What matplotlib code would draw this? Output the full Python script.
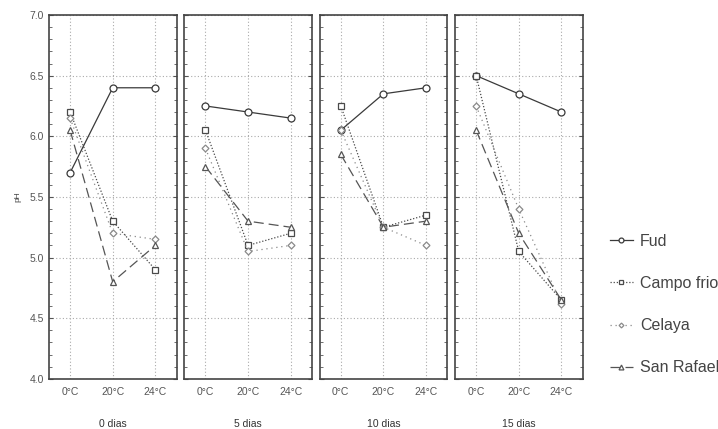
#!/usr/bin/env python3
import matplotlib.pyplot as plt
from matplotlib.ticker import MultipleLocator

temps = ["0°C", "20°C", "24°C"]
days = ["0 dias", "5 dias", "10 dias", "15 dias"]

# pH per cultivar, one row per storage day
fud = [[5.7, 6.4, 6.4], [6.25, 6.2, 6.15], [6.05, 6.35, 6.4], [6.5, 6.35, 6.2]]
campo_frio = [[6.2, 5.3, 4.9], [6.05, 5.1, 5.2], [6.25, 5.25, 5.35], [6.5, 5.05, 4.65]]
celaya = [[6.15, 5.2, 5.15], [5.9, 5.05, 5.1], [6.05, 5.25, 5.1], [6.25, 5.4, 4.62]]
san_rafael = [[6.05, 4.8, 5.1], [5.75, 5.3, 5.25], [5.85, 5.25, 5.3], [6.05, 5.2, 4.65]]

series = [
    ("Fud", fud, "o", "-", "#3a3a3a"),
    ("Campo frio", campo_frio, "s", (0, (1, 1.5)), "#4a4a4a"),
    ("Celaya", celaya, "D", (0, (1, 3)), "#8a8a8a"),
    ("San Rafael", san_rafael, "^", (0, (8, 4)), "#555555"),
]

plt.rcParams['font.family'] = ['Liberation Sans', 'DejaVu Sans']

fig = plt.figure(figsize=(7.18, 4.29), dpi=100)
left, bottom, w, gap, h = 0.068, 0.117, 0.178, 0.0105, 0.848
x = list(range(len(temps)))

axes = []
for i, day in enumerate(days):
    ax = fig.add_axes([left + i * (w + gap), bottom, w, h])
    for name, vals, mk, ls, col in series:
        ax.plot(x, vals[i], linestyle=ls, color=col, lw=0.9,
                marker=mk, ms=3.5 if mk == "D" else 5, mfc="white", mec=col,
                mew=0.9, label=name)
    ax.set_xlim(-0.5, 2.5)
    ax.set_ylim(4.0, 7.0)
    ax.set_xticks(x)
    ax.set_xticklabels(temps, fontsize=7.5, color="#555555")
    ax.yaxis.set_major_locator(MultipleLocator(0.5))
    ax.yaxis.set_minor_locator(MultipleLocator(0.1))
    ax.grid(True, which="major", linestyle=(0, (1, 2)), color="#aaaaaa", lw=0.8)
    ax.tick_params(axis="x", length=0, pad=6)
    ax.tick_params(axis="y", which="both", direction="in", right=True,
                   length=3, color="#555555")
    ax.tick_params(axis="y", which="minor", length=2)
    for sp in ax.spines.values():
        sp.set_color("#444444")
        sp.set_linewidth(1.2)
    ax.set_xlabel(day, fontsize=7.5, color="#333333", labelpad=16)
    if i == 0:
        ax.set_yticks([4.0, 4.5, 5.0, 5.5, 6.0, 6.5, 7.0])
        ax.set_yticklabels(["4.0", "4.5", "5.0", "5.5", "6.0", "6.5", "7.0"],
                           fontsize=7.5, color="#555555")
        ax.set_ylabel("pH", fontsize=6, color="#444444", labelpad=6)
    else:
        ax.tick_params(axis="y", labelleft=False)
    axes.append(ax)

handles, labels = axes[0].get_legend_handles_labels()
fig.legend(handles, labels, loc="center left", bbox_to_anchor=(0.83, 0.29),
           frameon=False, fontsize=11.5, labelspacing=1.7, handlelength=1.4,
           handletextpad=0.45, markerscale=0.7, labelcolor="#444444")

fig.savefig("out.png", dpi=100)
